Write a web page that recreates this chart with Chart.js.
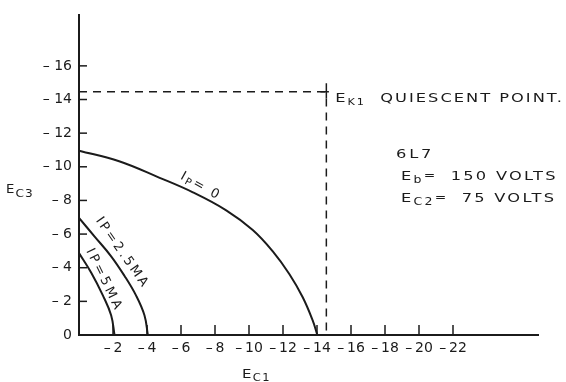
<!DOCTYPE html>
<html><head><meta charset="utf-8">
<script src="https://cdn.jsdelivr.net/npm/chart.js@4/dist/chart.umd.min.js"></script>
<style>html,body{margin:0;padding:0;background:#fff;overflow:hidden}</style>
</head><body>
<canvas id="c" width="566" height="382"></canvas>
<script>
// ---- data (E_C1 vs E_C3, volts) ----
const ec1Ip0  = [0, -2.36, -4.71, -6.7, -8.66, -10.22, -11.4, -12.38, -13.16, -13.74, -14.02];
const ec3Ip0  = [-10.96, -10.33, -9.36, -8.48, -7.41, -6.24, -4.97, -3.61, -2.24, -0.88, 0];
const ec1Ip25 = [0, -0.92, -1.89, -2.68, -3.36, -3.85, -4.05];
const ec3Ip25 = [-6.96, -5.85, -4.68, -3.51, -2.34, -1.17, 0];
const ec1Ip5  = [0, -0.72, -1.41, -1.89, -2.09];
const ec3Ip5  = [-4.87, -3.7, -2.34, -1.17, 0];
const quiescentEc1 = -14.55;
const quiescentEc3 = -14.46;
const xTickValues = [-2, -4, -6, -8, -10, -12, -14, -16, -18, -20, -22];
const xTickLabels = ['–\u20092', '–\u20094', '–\u20096', '–\u20098', '–\u200910', '–\u200912', '–\u200914', '–\u200916', '–\u200918', '–\u200920', '–\u200922'];
const yTickValues = [0, -2, -4, -6, -8, -10, -12, -14, -16];
const yTickLabels = ['0', '– 2', '– 4', '– 6', '– 8', '– 10', '– 12', '– 14', '– 16'];
const curveNames = ['0', '2.5MA', '5MA'];

const INK = '#1b1b1b';
const FONT = 'DejaVu Sans';

const pts = (xs, ys) => xs.map((v, i) => ({x: v, y: ys[i]}));

const curveStyle = {showLine: true, pointRadius: 0, borderColor: INK, borderWidth: 2, tension: 0.4, fill: false};
const dashStyle = {showLine: true, pointRadius: 0, borderColor: INK, borderWidth: 1.5, borderDash: [8, 6], tension: 0, fill: false};
const crossStyle = {showLine: true, pointRadius: 0, borderColor: INK, borderWidth: 1.5, tension: 0, fill: false};

const datasets = [
  Object.assign({label: 'Ip=' + curveNames[0], data: pts(ec1Ip0, ec3Ip0)}, curveStyle),
  Object.assign({label: 'Ip=' + curveNames[1], data: pts(ec1Ip25, ec3Ip25)}, curveStyle),
  Object.assign({label: 'Ip=' + curveNames[2], data: pts(ec1Ip5, ec3Ip5)}, curveStyle),
  Object.assign({label: 'h', data: [{x: 0, y: quiescentEc3}, {x: quiescentEc1, y: quiescentEc3}]}, dashStyle),
  Object.assign({label: 'v', data: [{x: quiescentEc1, y: quiescentEc3 + 0.4}, {x: quiescentEc1, y: 0}]}, dashStyle),
  Object.assign({label: 'cx', data: [{x: quiescentEc1 + 0.35, y: quiescentEc3}, {x: quiescentEc1 - 0.15, y: quiescentEc3}]}, crossStyle),
  Object.assign({label: 'cy', data: [{x: quiescentEc1, y: quiescentEc3 - 0.5}, {x: quiescentEc1, y: quiescentEc3 + 0.4}]}, crossStyle)
];

// rich text: parts = [text, fontSize, baselineShift]; hs = horizontal stretch
function richWidth(ctx, parts, ls, hs) {
  let w = 0;
  parts.forEach(p => { ctx.font = p[1] + 'px "' + FONT + '"'; ctx.letterSpacing = ls + 'px'; w += ctx.measureText(p[0]).width * hs; });
  return w;
}
function drawRich(ctx, parts, x, y, ls, hs) {
  hs = hs || 1;
  let cx = x;
  parts.forEach(p => {
    ctx.font = p[1] + 'px "' + FONT + '"';
    ctx.letterSpacing = ls + 'px';
    ctx.save();
    ctx.translate(cx, y + p[2]);
    ctx.scale(hs, 1);
    ctx.fillText(p[0], 0, 0);
    ctx.restore();
    cx += ctx.measureText(p[0]).width * hs;
  });
}

const notes = [
  {parts: [['E', 13, 0], ['K1', 9, 3], ['  QUIESCENT POINT.', 13, 0]], x: -15.07, y: -13.86, ls: 1.6, hs: 1.25},
  {parts: [['6L7', 13, 0]], x: -18.65, y: -10.53, ls: 2.2, hs: 1.25},
  {parts: [['E', 13, 0], ['b', 10, 3], ['=  ', 11, -1], ['150 VOLTS', 13, 0]], x: -18.94, y: -9.24, ls: 1.8, hs: 1.25},
  {parts: [['E', 13, 0], ['C2', 10, 3], ['=  ', 11, -1], ['75 VOLTS', 13, 0]], x: -18.94, y: -7.89, ls: 1.8, hs: 1.25}
];
const curveLabels = [
  {parts: [['I', 13, 0], ['P', 10, 2], ['= ' + curveNames[0], 13, 0]], x: -7.2, y: -8.92, angle: 29, ls: 2.2, base: 5},
  {parts: [['I', 13, 0], ['P', 13, 0], ['=' + curveNames[1], 13, 0]], x: -2.48, y: -4.82, angle: 55, ls: 2.6, base: 2},
  {parts: [['I', 13, 0], ['P', 13, 0], ['=' + curveNames[2], 13, 0]], x: -1.41, y: -3.22, angle: 64, ls: 3.0, base: 2}
];

const overlay = {
  id: 'overlay',
  afterDatasetsDraw(chart) {
    const {ctx, scales: {x, y}} = chart;
    const x0 = x.getPixelForValue(0), y0 = y.getPixelForValue(0);
    ctx.save();
    ctx.strokeStyle = INK; ctx.lineWidth = 1.5;
    xTickValues.forEach(v => { const px = x.getPixelForValue(v); ctx.beginPath(); ctx.moveTo(px, y0); ctx.lineTo(px, y0 - 10); ctx.stroke(); });
    yTickValues.forEach(v => { if (v === 0) return; const py = y.getPixelForValue(v); ctx.beginPath(); ctx.moveTo(x0, py); ctx.lineTo(x0 + 8, py); ctx.stroke(); });
    ctx.fillStyle = INK; ctx.textAlign = 'left'; ctx.textBaseline = 'alphabetic';
    notes.forEach(n => drawRich(ctx, n.parts, x.getPixelForValue(n.x), y.getPixelForValue(n.y), n.ls, n.hs));
    curveLabels.forEach(n => {
      ctx.save();
      ctx.translate(x.getPixelForValue(n.x), y.getPixelForValue(n.y));
      ctx.rotate(n.angle * Math.PI / 180);
      const w = richWidth(ctx, n.parts, n.ls, 1);
      drawRich(ctx, n.parts, -w / 2, n.base, n.ls, 1);
      ctx.restore();
    });
    // axis titles
    drawRich(ctx, [['E', 13, 0], ['C1', 10, 3]], 242, 378, 1.2, 1.15);
    drawRich(ctx, [['E', 12, 0], ['C3', 11, 4]], 6, 193, 1, 1.1);
    ctx.letterSpacing = '0px';
    ctx.restore();
  }
};

new Chart(document.getElementById('c'), {
  type: 'scatter',
  data: {datasets},
  options: {
    responsive: false,
    animation: false,
    devicePixelRatio: 1,
    layout: {padding: {top: 10, right: 28, left: 0, bottom: 0}},
    plugins: {legend: {display: false}, tooltip: {enabled: false}},
    scales: {
      x: {
        type: 'linear', min: -27, max: 0, reverse: true,
        grid: {display: false, drawTicks: false},
        border: {display: true, color: INK, width: 2},
        afterBuildTicks: s => { s.ticks = xTickValues.map(v => ({value: v})); },
        afterFit: s => { s.height = 47; },
        ticks: {padding: 5, color: INK, font: {family: FONT, size: 14}, maxRotation: 0, autoSkip: false,
                callback: (v, i) => xTickLabels[i]}
      },
      y: {
        type: 'linear', min: -19, max: 0, reverse: true,
        grid: {display: false, drawTicks: false},
        border: {display: true, color: INK, width: 2},
        afterBuildTicks: s => { s.ticks = yTickValues.map(v => ({value: v})); },
        afterFit: s => { s.width = 79; },
        ticks: {padding: 7, color: INK, font: {family: FONT, size: 14}, autoSkip: false,
                callback: (v, i) => yTickLabels[i]}
      }
    }
  },
  plugins: [overlay]
});
</script>
</body></html>
